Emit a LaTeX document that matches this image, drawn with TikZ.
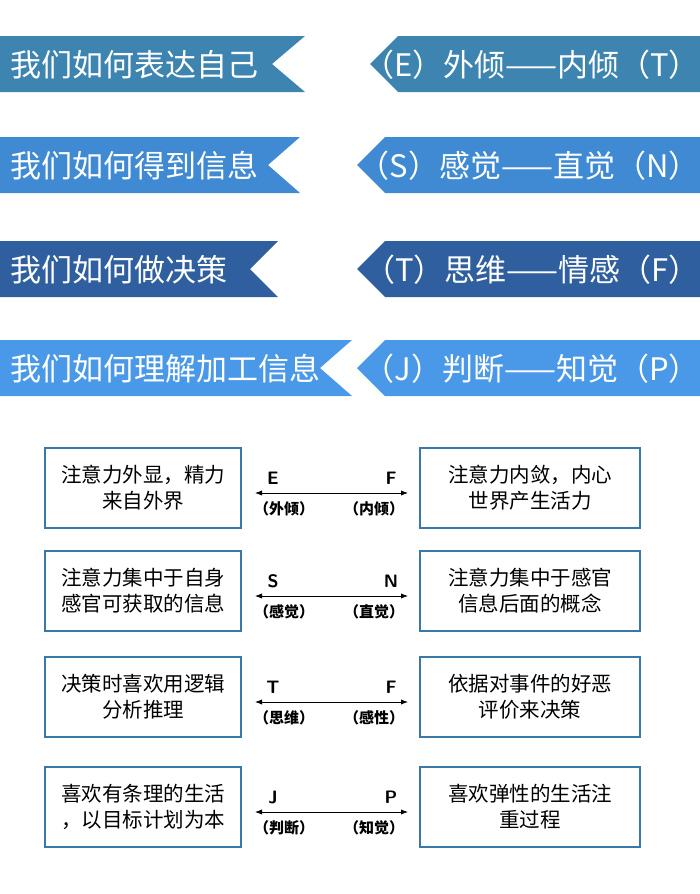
\documentclass[tikz,border=0pt]{standalone}
\usepackage{fontspec}
\setmainfont{Noto Sans CJK SC}
\usetikzlibrary{arrows.meta}
\definecolor{bandA}{HTML}{3D85B0}
\definecolor{bandB}{HTML}{3F8AD2}
\definecolor{bandC}{HTML}{2F5F9E}
\definecolor{bandD}{HTML}{4A98E8}
\definecolor{frame}{HTML}{3A78A8}
\tikzset{
  bandtext/.style={text=white, font=\fontsize{31}{34}\selectfont, anchor=west, inner sep=0pt},
  cardbox/.style={draw=frame, line width=2.5pt, minimum height=80pt,
    align=center, font=\fontsize{20.5}{26}\selectfont, inner sep=0pt},
  letter/.style={font=\sffamily\bfseries\fontsize{18}{18}\selectfont},
  pole/.style={font=\bfseries\fontsize{15}{15}\selectfont},
}
\begin{document}
\begin{tikzpicture}[x=1pt,y=-1pt]
  \useasboundingbox (0,0) rectangle (700,894);
  %% banners: left label and right pair
  \foreach \top/\w/\n/\tip/\col/\txt/\pair in {
      36/305/272/370/bandA/我们如何表达自己/（E）外倾——内倾（T）,
      137/300/268/357/bandB/我们如何得到信息/（S）感觉——直觉（N）,
      241/278/250/357/bandC/我们如何做决策/（T）思维——情感（F）,
      340/352/320/357/bandD/我们如何理解加工信息/（J）判断——知觉（P）}{
    \fill[\col] (0,\top) -- (\w,\top) -- (\n,\top+28) -- (\w,\top+56) -- (0,\top+56) -- cycle;
    \node[bandtext] at (10,\top+29) {\txt};
    \fill[\col] (\tip,\top+28) -- (\tip+28,\top) -- (700,\top) -- (700,\top+56) -- (\tip+28,\top+56) -- cycle;
    \node[bandtext, anchor=east] at (700,\top+29) {\pair};
  }
  %% preference cards
  \foreach \i/\cy/\ltxt/\rtxt/\a/\b/\pa/\pb in {
      1/488/{注意力外显，精力\\来自外界}/{注意力内敛，内心\\世界产生活力}/E/F/（外倾）/（内倾）,
      2/591/{注意力集中于自身\\感官可获取的信息}/{注意力集中于感官\\信息后面的概念}/S/N/（感觉）/（直觉）,
      3/697/{决策时喜欢用逻辑\\分析推理}/{依据对事件的好恶\\评价来决策}/T/F/（思维）/（感性）,
      4/807/{喜欢有条理的生活\\，以目标计划为本}/{喜欢弹性的生活注\\重过程}/J/P/（判断）/（知觉）}{
    \node[cardbox, minimum width=196pt] (left\i) at (143,\cy) {\ltxt};
    \node[cardbox, minimum width=220pt] (right\i) at (530,\cy) {\rtxt};
    \coordinate (from\i) at (255,\cy+5);
    \coordinate (to\i) at (408,\cy+5);
    \draw[{Latex[length=7pt]}-{Latex[length=7pt]}, thick] (from\i) -- (to\i);
    \node[letter] at (273,\cy-10) {\a};
    \node[letter] at (391,\cy-10) {\b};
    \node[pole] at (284,\cy+21) {\pa};
    \node[pole] at (374,\cy+21) {\pb};
  }
\end{tikzpicture}
\end{document}
